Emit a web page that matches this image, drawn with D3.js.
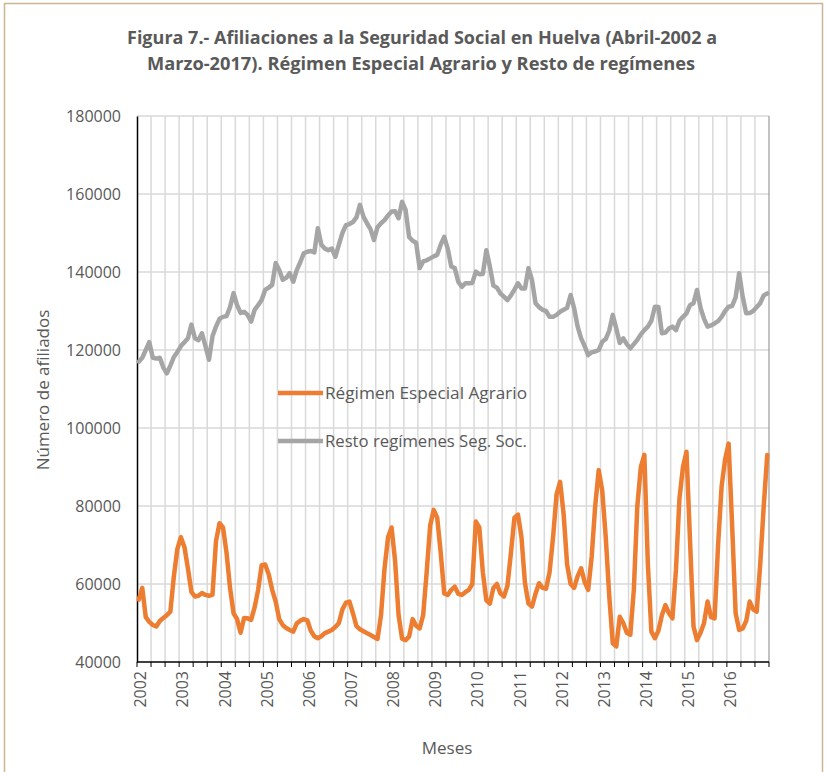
<!DOCTYPE html>
<html><head><meta charset="utf-8">
<script src="https://cdn.jsdelivr.net/npm/d3@7"></script>
<style>body{margin:0;background:#fff}svg{display:block}</style>
</head><body>
<svg id="c" width="827" height="772"></svg>
<script>
const titleLines = ["Figura 7.- Afiliaciones  a la Seguridad Social  en Huelva  (Abril-2002 a",
                    "Marzo-2017). Régimen Especial  Agrario y Resto de regímenes"];
const yearLabels = ["2002","2003","2004","2005","2006","2007","2008","2009","2010","2011","2012","2013","2014","2015","2016"];
const yTicks = [40000,60000,80000,100000,120000,140000,160000,180000];
const seriesNames = ["Régimen Especial Agrario","Resto regímenes Seg. Soc."];
const seriesColors = ["#ED7D31","#A5A5A5"];

// Monthly values, April 2002 – March 2017
const agrario = [
 56000,59000,51500,50300,49500,49100,50500,51300,52000,52900,62000,69000,
 72000,69500,64000,58000,56800,57000,57700,57200,57000,57200,71000,75600,
 74500,68000,59000,52500,51000,47500,51300,51200,50800,54000,58500,64800,
 65000,62500,58500,55500,51000,49500,48700,48200,47800,49900,50600,51000,
 50700,48000,46600,46100,46600,47400,47800,48200,49000,50000,53500,55200,
 55500,52500,49200,48400,47900,47400,46900,46400,45900,52000,64000,72000,
 74500,66000,52000,46000,45600,46500,51000,49300,48600,52000,63000,75000,
 79000,77000,68000,57600,57200,58500,59300,57500,57200,57900,58500,60000,
 76000,74500,63000,55800,55000,59000,60000,57600,56800,59500,68000,77000,
 77800,72000,60200,55000,54200,57500,60200,59000,58800,63000,72000,83000,
 86200,78000,65000,60000,59000,62000,64000,60500,58500,67000,80000,89200,
 84000,72000,57000,44800,44000,51600,50000,47500,47000,58500,80000,90000,
 93100,65000,47800,46100,48000,52000,54600,52500,51200,63600,82000,90000,
 93900,71300,49100,45600,47500,50000,55500,51500,51200,70000,85000,92000,
 96000,75000,52500,48200,48600,50500,55500,53500,52900,65000,80000,93100
];
const resto = [
 117000,118000,120000,122000,118000,117800,118000,115500,114000,116000,118200,119500,
 121000,122000,123000,126500,123000,122500,124300,121000,117500,123500,126000,128000,
 128500,128700,131000,134600,131500,129500,129800,129000,127300,130300,131500,132800,
 135400,136000,136700,142300,140500,138000,138500,139700,137500,140500,142500,144800,
 145200,145400,145000,151200,147000,146000,145600,146000,143900,147000,150000,152000,
 152300,152800,154000,157200,154200,152500,151000,148200,151500,152500,153300,154500,
 155500,155600,153800,158000,155900,149000,148000,147500,141000,142700,143000,143500,
 144000,144400,147000,149000,146000,141400,141000,137500,136200,137100,137100,137200,
 140100,139400,139500,145600,141400,136500,136000,134500,133700,132800,134000,135500,
 137100,135800,135800,141000,137900,132000,131000,130300,130000,128500,128500,129000,
 129800,130300,130800,134100,130700,126000,123000,121000,118700,119400,119600,120000,
 122100,122800,125000,129000,125500,121800,123000,121500,120400,121500,122600,124000,
 125100,126000,127500,131100,131000,124300,124500,125500,126000,125100,127500,128500,
 129400,131500,132000,135400,130800,128000,126000,126300,126800,127400,128500,130000,
 131100,131300,133500,139700,133700,129400,129500,130000,131000,132000,134000,134500
];

const font = "'Open Sans', 'Noto Sans', sans-serif";
const textColor = "#595959";
const svg = d3.select("#c");

// outer frame
svg.append("rect").attr("x",4.5).attr("y",3.5).attr("width",818).attr("height",780)
  .attr("fill","none").attr("stroke","#cbb594").attr("stroke-width",1.5);

const pLeft = 137, pRight = 769, pTop = 116, pBottom = 662;
const idx = d3.range(agrario.length);
const x = d3.scaleBand().domain(idx).range([pLeft, pRight]).paddingInner(0).paddingOuter(0);
const bw = x.bandwidth();
const cx = i => x(i) + bw / 2;
const y = d3.scaleLinear().domain([40000, 180000]).range([pBottom, pTop]);

// gridlines
const g = svg.append("g");
g.selectAll("line.hg").data(yTicks.filter(v => v > 40000)).join("line")
  .attr("x1", pLeft).attr("x2", pRight).attr("y1", d => y(d)).attr("y2", d => y(d))
  .attr("stroke", "#d9d9d9").attr("stroke-width", 1.5);
const vIdx = idx.filter(i => i > 0 && i % 4 === 0);
g.selectAll("line.vg").data(vIdx).join("line")
  .attr("x1", d => x(d)).attr("x2", d => x(d)).attr("y1", pTop).attr("y2", pBottom)
  .attr("stroke", "#d9d9d9").attr("stroke-width", 1.5);
g.append("line").attr("x1", pRight).attr("x2", pRight).attr("y1", pTop).attr("y2", pBottom)
  .attr("stroke", "#9a9a9a").attr("stroke-width", 1.2);

// axes
const yAxis = d3.axisLeft(y).tickValues(yTicks).tickSize(0).tickPadding(16).tickFormat(d3.format("d"));
const ya = svg.append("g").attr("transform", `translate(${pLeft},0)`).call(yAxis);
ya.select(".domain").attr("stroke", "#000").attr("stroke-width", 1.5);
ya.selectAll("text").attr("font-family", font).attr("font-size", 16).attr("fill", textColor);

const tickIdx = idx.filter(i => i % 4 === 0);
const xa = svg.append("g");
xa.append("line").attr("x1", pLeft).attr("x2", pRight).attr("y1", pBottom).attr("y2", pBottom)
  .attr("stroke", "#000").attr("stroke-width", 1.5);
xa.selectAll("line.t").data(tickIdx.concat([null])).join("line")
  .attr("x1", d => d === null ? pRight : x(d)).attr("x2", d => d === null ? pRight : x(d))
  .attr("y1", pBottom).attr("y2", pBottom + 5).attr("stroke", "#000").attr("stroke-width", 1);
xa.selectAll("text").data(yearLabels).join("text")
  .attr("transform", (d, k) => `translate(${cx(k * 12) + 2},671) rotate(-90)`)
  .attr("text-anchor", "end").attr("dy", "0.35em")
  .attr("font-family", font).attr("font-size", 16).attr("fill", textColor)
  .text(d => d);

// axis titles
svg.append("text").attr("x", 447).attr("y", 754).attr("text-anchor", "middle")
  .attr("font-family", font).attr("font-size", 17).attr("fill", textColor).text("Meses");
svg.append("text").attr("transform", "translate(43,390) rotate(-90)").attr("text-anchor", "middle")
  .attr("dy", "0.35em").attr("font-family", font).attr("font-size", 17).attr("fill", textColor)
  .text("Número de afiliados");

// title
svg.selectAll("text.title").data(titleLines).join("text").attr("class", "title")
  .attr("x", (d, i) => i === 0 ? 127 : 147).attr("y", (d, i) => i === 0 ? 44 : 70)
  .attr("textLength", (d, i) => i === 0 ? 590 : 548).attr("lengthAdjust", "spacingAndGlyphs")
  .attr("font-family", font).attr("font-weight", "bold").attr("font-size", 17).attr("fill", textColor)
  .text(d => d);

// lines
const line = d3.line().x((d, i) => cx(i)).y(d => y(d));
[agrario, resto].forEach((s, k) => {
  svg.append("path").datum(s).attr("d", line).attr("fill", "none")
    .attr("stroke", seriesColors[k]).attr("stroke-width", 4.5)
    .attr("stroke-linejoin", "round").attr("stroke-linecap", "round");
});

// legend
const legY = [393, 441];
seriesNames.forEach((n, k) => {
  svg.append("line").attr("x1", 278).attr("x2", 323).attr("y1", legY[k]).attr("y2", legY[k])
    .attr("stroke", seriesColors[k]).attr("stroke-width", 4.5);
  svg.append("text").attr("x", 325).attr("y", legY[k]).attr("dy", "0.35em")
    .attr("textLength", 202).attr("lengthAdjust", "spacingAndGlyphs")
    .attr("font-family", font).attr("font-size", 16).attr("fill", textColor).text(n);
});
</script>
</body></html>
